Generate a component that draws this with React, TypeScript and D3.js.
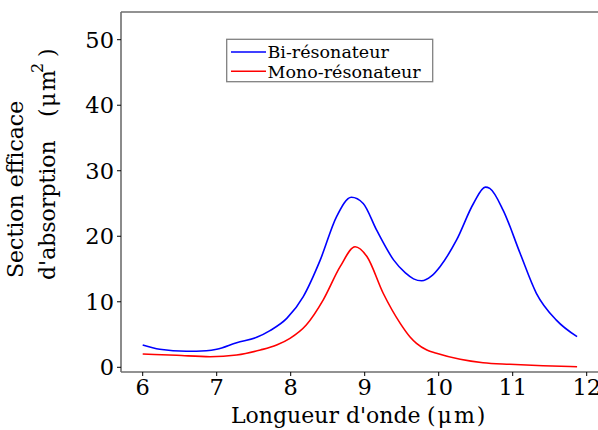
import React from "react";
import * as d3 from "d3";

const biX = [6.0, 6.23, 6.59, 6.86, 7.0, 7.27, 7.54, 7.72, 7.95, 8.17, 8.4, 8.62, 8.82, 8.98, 9.16, 9.39, 9.55, 9.66, 9.77, 9.9, 10.02, 10.24, 10.47, 10.63, 10.69, 10.87, 11.1, 11.32, 11.59, 11.87];
const biY = [3.4, 2.75, 2.44, 2.53, 2.75, 3.76, 4.58, 5.6, 7.5, 10.8, 16.4, 23.0, 25.95, 25.0, 20.96, 16.4, 14.4, 13.5, 13.2, 13.9, 15.4, 19.4, 25.0, 27.5, 27.3, 24.0, 17.4, 11.3, 7.2, 4.67];

const monoX = [6.0, 6.46, 6.91, 7.27, 7.59, 7.81, 7.99, 8.21, 8.44, 8.67, 8.87, 9.03, 9.25, 9.48, 9.61, 9.7, 9.84, 9.97, 10.29, 10.6, 10.96, 11.41, 11.87];
const monoY = [2.03, 1.83, 1.62, 1.88, 2.64, 3.4, 4.42, 6.46, 10.3, 15.4, 18.4, 16.9, 11.3, 6.7, 4.67, 3.66, 2.64, 2.14, 1.22, 0.7, 0.46, 0.24, 0.09];

const xTicks = [6, 7, 8, 9, 10, 11, 12];
const yTicks = [0, 10, 20, 30, 40, 50];
const seriesNames = ["Bi-résonateur", "Mono-résonateur"];
const seriesColors = ["#0000ff", "#ff0000"];

const W = 598, H = 430;
const left = 121, right = 598, top = 12, bottom = 372;

export default function App() {
  const x = d3.scaleLinear().domain([6, 12]).range([142.7, 586.7]);
  const y = d3.scaleLinear().domain([0, 50]).range([367.3, 39.7]);
  const line = d3.line<[number, number]>().x(d => x(d[0])).y(d => y(d[1])).curve(d3.curveMonotoneX);
  const bi = biX.map((v, i) => [v, biY[i]] as [number, number]);
  const mono = monoX.map((v, i) => [v, monoY[i]] as [number, number]);
  const font = "'DejaVu Serif', serif";
  const spine = "#6e6e6e";
  const tickFs = 22.5;
  const labFs = 22;
  return (
    <svg width={W} height={H} style={{ position: "absolute", left: 0, top: 0, background: "#fff" }} fontFamily={font}>
      <rect x={0} y={0} width={W} height={H} fill="#fff" />
      <path d={line(mono) || ""} fill="none" stroke={seriesColors[1]} strokeWidth={1.6} />
      <path d={line(bi) || ""} fill="none" stroke={seriesColors[0]} strokeWidth={1.6} />
      {/* spines */}
      <line x1={left} x2={right} y1={top} y2={top} stroke={spine} strokeWidth={1.6} />
      <line x1={left} x2={left} y1={top} y2={bottom} stroke={spine} strokeWidth={1.6} />
      <line x1={left} x2={right} y1={bottom} y2={bottom} stroke={spine} strokeWidth={1.6} />
      {yTicks.map(t => (
        <g key={"y" + t}>
          <line x1={left - 4} x2={left} y1={y(t)} y2={y(t)} stroke="#000" strokeWidth={1} />
          <text x={left - 7} y={y(t)} dy="0.36em" textAnchor="end" fontSize={tickFs} fill="#000">{t}</text>
        </g>
      ))}
      {xTicks.map(t => (
        <g key={"x" + t}>
          <line x1={x(t)} x2={x(t)} y1={bottom} y2={bottom + 4} stroke="#000" strokeWidth={1} />
          <text x={x(t)} y={395} textAnchor="middle" fontSize={tickFs} fill="#000">{t}</text>
        </g>
      ))}
      <text x={231} y={423} textAnchor="start" fontSize={labFs} fill="#000">Longueur d'onde</text>
      <text x={427} y={423} textAnchor="start" fontSize={labFs} fill="#000" letterSpacing={2}>(μm)</text>
      <g transform="translate(23,0) rotate(-90)">
        <text x={-278} y={0} textAnchor="start" fontSize={labFs} fill="#000">Section efficace</text>
      </g>
      <g transform="translate(55,0) rotate(-90)">
        <text x={-280} y={0} textAnchor="start" fontSize={labFs} fill="#000">d'absorption</text>
        <text x={-117} y={0} textAnchor="start" fontSize={labFs} fill="#000" letterSpacing={1.5}>(μm</text>
        <text x={-73} y={-12} textAnchor="start" fontSize={16} fill="#000">2</text>
        <text x={-57} y={0} textAnchor="start" fontSize={labFs} fill="#000">)</text>
      </g>
      {/* legend */}
      <rect x={226.7} y={39.3} width={206} height={42.4} fill="#fff" stroke="#808080" strokeWidth={1.3} />
      {seriesNames.map((n, i) => (
        <g key={n}>
          <line x1={231} x2={266} y1={52 + i * 19.3} y2={52 + i * 19.3} stroke={seriesColors[i]} strokeWidth={1.6} />
          <text x={267.5} y={52 + i * 19.3} dy="0.36em" fontSize={17.5} fill="#000">{n}</text>
        </g>
      ))}
    </svg>
  );
}
